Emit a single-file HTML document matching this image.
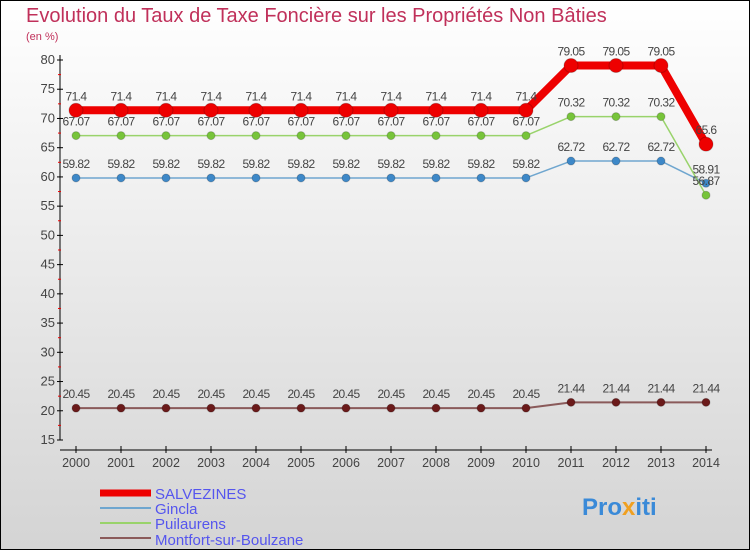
<!DOCTYPE html>
<html><head><meta charset="utf-8"><style>
body{margin:0;width:750px;height:550px;overflow:hidden}
svg{display:block;font-family:"Liberation Sans",sans-serif}
</style></head><body>
<svg width="750" height="550" id="chart">
<defs><linearGradient id="bg" x1="0" y1="0" x2="0" y2="1"><stop offset="0" stop-color="#ffffff"/><stop offset="1" stop-color="#d4d4d4"/></linearGradient></defs>
<rect x="0.5" y="0.5" width="749" height="549" fill="url(#bg)" stroke="#000"/>
<text x="26" y="22" font-size="20" fill="#c0305a">Evolution du Taux de Taxe Foncière sur les Propriétés Non Bâties</text>
<text x="26" y="40" font-size="11" fill="#c0305a">(en %)</text>
<g id="axes"></g><g id="series"></g>
<g>
<line x1="100" y1="493" x2="151" y2="493" stroke="#ee0000" stroke-width="7"/>
<text x="155" y="499" font-size="15" fill="#5555ee">SALVEZINES</text>
<line x1="100" y1="508" x2="151" y2="508" stroke="#6fa6cf" stroke-width="2"/>
<text x="155" y="514" font-size="15" fill="#5555ee">Gincla</text>
<line x1="100" y1="523" x2="151" y2="523" stroke="#99d36b" stroke-width="2"/>
<text x="155" y="529" font-size="15" fill="#5555ee">Puilaurens</text>
<line x1="100" y1="538" x2="151" y2="538" stroke="#8a5a5a" stroke-width="2"/>
<text x="155" y="545" font-size="15" fill="#5555ee">Montfort-sur-Boulzane</text>
</g>
<text x="582" y="515" font-size="24" font-weight="bold" fill="#3a8ad8">Pro<tspan fill="#f0a020">x</tspan>iti</text>
</svg>
<script>
const years=[2000,2001,2002,2003,2004,2005,2006,2007,2008,2009,2010,2011,2012,2013,2014];
const yTicks=[15,20,25,30,35,40,45,50,55,60,65,70,75,80];
const salvezines=[71.4,71.4,71.4,71.4,71.4,71.4,71.4,71.4,71.4,71.4,71.4,79.05,79.05,79.05,65.6];
const gincla=[59.82,59.82,59.82,59.82,59.82,59.82,59.82,59.82,59.82,59.82,59.82,62.72,62.72,62.72,58.91];
const puilaurens=[67.07,67.07,67.07,67.07,67.07,67.07,67.07,67.07,67.07,67.07,67.07,70.32,70.32,70.32,56.87];
const montfort=[20.45,20.45,20.45,20.45,20.45,20.45,20.45,20.45,20.45,20.45,20.45,21.44,21.44,21.44,21.44];
const NS="http://www.w3.org/2000/svg";
const X=i=>76+i*45, Y=v=>60+(80-v)*380/65;
function mk(p,t,a){const e=document.createElementNS(NS,t);for(const k in a)e.setAttribute(k,a[k]);p.appendChild(e);return e;}
const ax=document.getElementById('axes');
let l=mk(ax,'line',{x1:60,y1:55,x2:60,y2:440,stroke:'#000'});


l=mk(ax,'line',{x1:60,y1:450,x2:712,y2:450,stroke:'#000'});


yTicks.forEach(v=>{mk(ax,'line',{x1:57,y1:Y(v),x2:63,y2:Y(v),stroke:'#000'});
 if(v<80)mk(ax,'line',{x1:58,y1:Y(v+2.5),x2:61,y2:Y(v+2.5),stroke:'#e00'});
 const t=mk(ax,'text',{x:55,y:Y(v)+4,'font-size':13,fill:'#444','text-anchor':'end'});t.textContent=v;
 
 });
years.forEach((yr,i)=>{mk(ax,'line',{x1:X(i),y1:446,x2:X(i),y2:453,stroke:'#000'});
 const t=mk(ax,'text',{x:X(i),y:467,'font-size':12.5,fill:'#444','text-anchor':'middle'});t.textContent=yr;
 
 });
const sg=document.getElementById('series');
function draw(name,vals,col,w,r,dot){
 const g=mk(sg,'g',{});
 
 
 mk(g,'polyline',{points:vals.map((v,i)=>X(i)+','+Y(v)).join(' '),fill:'none',stroke:col,'stroke-width':w,'stroke-linejoin':'round'});
 vals.forEach((v,i)=>{const c=mk(g,'circle',{cx:X(i),cy:Y(v),r:r,fill:dot,stroke:'rgba(0,0,0,0.2)'});
  
  
  const t=mk(g,'text',{x:X(i),y:Y(v)-10,'font-size':12,fill:'#444','text-anchor':'middle','letter-spacing':'-0.6'});t.textContent=v;
  
  });
}
draw('montfort',montfort,'#8a5a5a',2,4,'#6b1a1a');
draw('gincla',gincla,'#6fa6cf',1.5,4,'#3d88c8');
draw('puilaurens',puilaurens,'#99d36b',1.5,4,'#77c43a');
draw('salvezines',salvezines,'#ee0000',8,7,'#ee0000');
</script>
</body></html>
